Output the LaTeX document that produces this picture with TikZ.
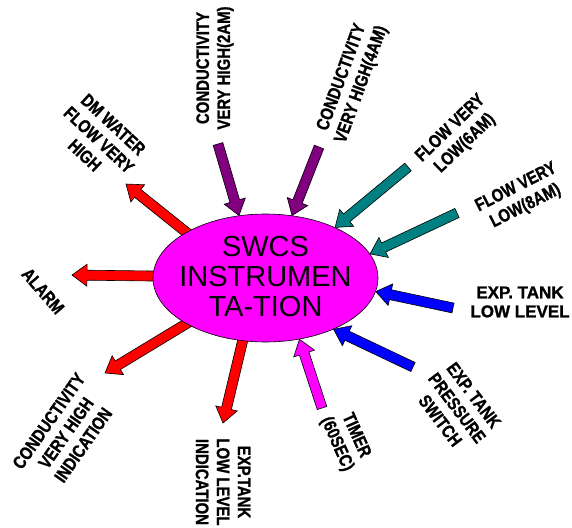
\documentclass[tikz,border=0pt]{standalone}
\usepackage{fontspec}
\setmainfont{Liberation Sans}
\newfontfamily\lblfont[FakeBold=1.2]{Liberation Sans Bold}
\usetikzlibrary{calc,shapes.geometric,backgrounds}
\definecolor{cred}{HTML}{FF0000}
\definecolor{cpurple}{HTML}{800080}
\definecolor{cteal}{HTML}{008080}
\definecolor{cblue}{HTML}{0000FF}
\definecolor{cmag}{HTML}{FF00FF}
\newcommand{\blockarrow}[3]{%
  \path ($(#3)!15pt!(#2)$) coordinate (hh);
  \draw[barrow, fill=#1]
    ($(#2)!5pt!90:(#3)$) --
    ($(hh)!5pt!-90:(#2)$) --
    ($(hh)!11pt!-90:(#2)$) --
    (#3) --
    ($(hh)!11pt!90:(#2)$) --
    ($(hh)!5pt!90:(#2)$) --
    ($(#2)!5pt!-90:(#3)$) -- cycle;
}
\tikzset{
  barrow/.style={draw=black, line width=0.6pt, line join=miter},
  lbl/.style={align=center, inner sep=0pt, font=\lblfont\fontsize{18}{21}\selectfont},
  hub/.style={ellipse, draw=black, line width=0.6pt, fill=cmag, minimum width=225pt, minimum height=128pt, inner sep=0pt},
  hubtext/.style={align=center, inner sep=0pt, font=\fontsize{29}{30}\selectfont}
}
\begin{document}
\begin{tikzpicture}[x=1pt,y=-1pt]
\useasboundingbox (0,0) rectangle (572,527);
\node[hub] (c) at (265.5,278) {};
\node[hubtext] (ct) at (265.5,277) {SWCS\\INSTRUMEN\\TA-TION};

% labels
\node[lbl, rotate=-43, xscale=0.83] (l1) at (99,140) {DM WATER\\FLOW VERY\\HIGH};
\node[lbl, rotate=90, xscale=0.83] (l2) at (215,68) {CONDUCTIVITY\\VERY HIGH(2AM)};
\node[lbl, rotate=70, xscale=0.83] (l3) at (352,81) {CONDUCTIVITY\\VERY HIGH(4AM)};
\node[lbl, rotate=44, xscale=0.83] (l4) at (458,136) {FLOW VERY\\LOW(6AM)};
\node[lbl, rotate=27, xscale=0.83] (l5) at (521,197) {FLOW VERY\\LOW(8AM)};
\node[lbl, font=\lblfont\fontsize{17}{19}\selectfont] (l6) at (520,302) {EXP. TANK\\LOW LEVEL};
\node[lbl, rotate=-53, xscale=0.83] (l7) at (457,408) {EXP. TANK\\PRESSURE\\SWITCH};
\node[lbl, rotate=-66, xscale=0.83] (l8) at (346,440) {TIMER\\(60SEC)};
\node[lbl, rotate=-90, xscale=0.83] (l9) at (223,482) {EXP.TANK\\LOW LEVEL\\INDICATION};
\node[lbl, rotate=55, xscale=0.83] (l10) at (66,433) {CONDUCTIVITY\\VERY HIGH\\INDICATION};
\node[lbl, rotate=-49, xscale=0.83] (l11) at (43,291) {ALARM};

% free ends
\coordinate (e1) at (126,184);
\coordinate (e2) at (218,144);
\coordinate (e3) at (319,147);
\coordinate (e4) at (408,167);
\coordinate (e5) at (457,213);
\coordinate (e6) at (453,308);
\coordinate (e7) at (413,367);
\coordinate (e8) at (322,408);
\coordinate (e9) at (223,423);
\coordinate (e10) at (105,373);
\coordinate (e11) at (72,275);

% outward arrows (tails hidden under the ellipse)
\begin{scope}[on background layer]
\path ($(c.150.8)!-6pt!(e1)$) coordinate (s1);
\blockarrow{cred}{s1}{e1}
\path ($(c.-110)!-6pt!(e9)$) coordinate (s9);
\blockarrow{cred}{s9}{e9}
\path ($(c.-150.8)!-6pt!(e10)$) coordinate (s10);
\blockarrow{cred}{s10}{e10}
\path ($(c.179.5)!-6pt!(e11)$) coordinate (s11);
\blockarrow{cred}{s11}{e11}
\end{scope}

% inward arrows
\blockarrow{cpurple}{e2}{c.113}
\blockarrow{cpurple}{e3}{c.67.8}
\blockarrow{cteal}{e4}{c.36.3}
\blockarrow{cteal}{e5}{c.13.1}
\blockarrow{cblue}{e6}{c.-7.8}
\blockarrow{cblue}{e7}{c.-37.6}
\blockarrow{cmag}{e8}{c.-61.3}
\end{tikzpicture}
\end{document}
